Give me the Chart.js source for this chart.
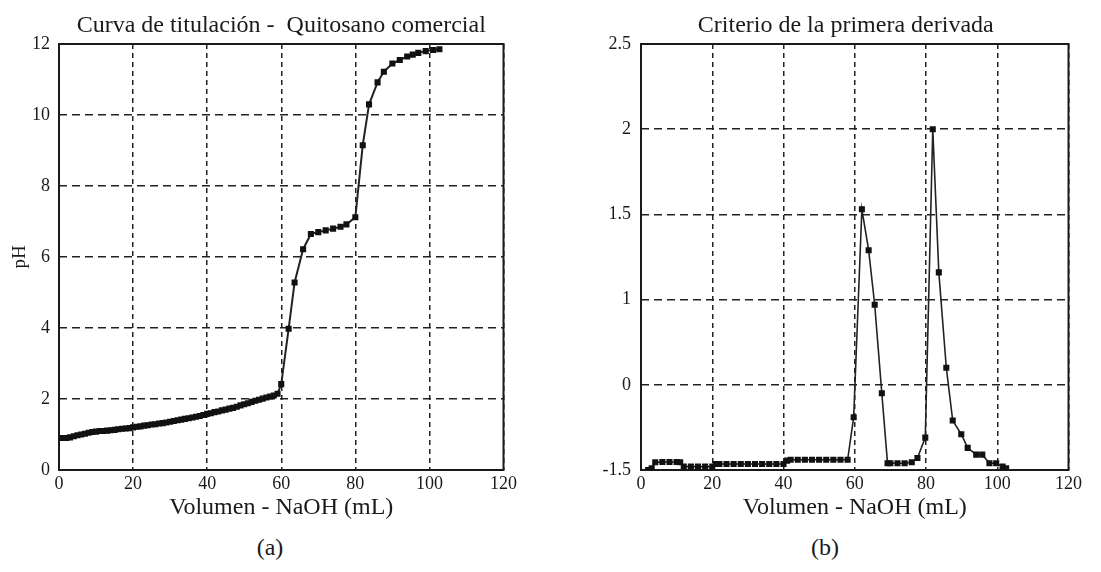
<!DOCTYPE html>
<html>
<head>
<meta charset="utf-8">
<script src="https://cdn.jsdelivr.net/npm/chart.js@4.4.0/dist/chart.umd.min.js"></script>
<style>
  body { margin: 0; background: #fff; width: 1101px; height: 572px; position: relative; overflow: hidden;
         font-family: 'Liberation Serif', 'Times New Roman', serif; color: #1a1a1a; }
  .box { position: absolute; top: 0; height: 530px; }
  .sub { position: absolute; top: 534px; width: 60px; text-align: center; font-size: 24px; }
</style>
</head>
<body>
<div class="box" style="left:0;width:520px"><canvas id="chartA"></canvas></div>
<div class="box" style="left:580px;width:505px"><canvas id="chartB"></canvas></div>
<div class="sub" style="left:240px">(a)</div>
<div class="sub" style="left:795px">(b)</div>
<script>
// titration curve: NaOH volume (mL) vs pH
const volA = [0, 1, 2, 3, 4, 5, 6, 7, 8, 9, 10, 11, 12, 13, 14, 15, 16, 17, 18, 19,
  20, 21, 22, 23, 24, 25, 26, 27, 28, 29, 30, 31, 32, 33, 34, 35, 36, 37, 38, 39,
  40, 41, 42, 43, 44, 45, 46, 47, 48, 49, 50, 51, 52, 53, 54, 55, 56, 57, 58, 59,
  60, 62, 63.6, 65.9, 68, 70, 72, 74, 76, 77.6, 80, 82, 83.7, 86, 87.7, 90, 92, 94,
  95.5, 97, 99, 101, 102.7];
const phA = [0.90, 0.90, 0.90, 0.92, 0.95, 0.98, 1.00, 1.02, 1.05, 1.07, 1.08, 1.10, 1.10, 1.11, 1.12, 1.13, 1.15, 1.16, 1.17, 1.18,
  1.20, 1.22, 1.23, 1.25, 1.26, 1.28, 1.29, 1.31, 1.32, 1.34, 1.36, 1.38, 1.40, 1.42, 1.44, 1.46, 1.48, 1.50, 1.52, 1.55,
  1.58, 1.60, 1.63, 1.65, 1.68, 1.70, 1.73, 1.75, 1.78, 1.82, 1.85, 1.88, 1.92, 1.95, 1.98, 2.01, 2.04, 2.07, 2.10, 2.15,
  2.42, 3.98, 5.28, 6.22, 6.65, 6.70, 6.75, 6.80, 6.85, 6.92, 7.12, 9.15, 10.30, 10.92, 11.22, 11.45, 11.55, 11.65,
  11.70, 11.75, 11.80, 11.83, 11.85];

// first derivative criterion
const volB = [2, 3, 4, 6, 8, 10, 11, 12, 14, 16, 18, 20, 21, 22, 24, 26, 28, 30, 32, 34, 36, 38, 40,
  41, 42, 44, 46, 48, 50, 52, 54, 56, 58, 59.7, 62, 63.9, 65.6, 67.6, 69.2, 70, 72, 74, 76,
  77.6, 79.8, 81.9, 83.6, 85.7, 87.5, 89.9, 91.7, 94.1, 95.8, 97.8, 99.7, 101.5, 102.5];
const derB = [0.00, 0.01, 0.045, 0.047, 0.047, 0.047, 0.045, 0.02, 0.02, 0.02, 0.02, 0.02, 0.035, 0.035, 0.035, 0.035, 0.035, 0.035, 0.035, 0.035, 0.035, 0.035, 0.035,
  0.055, 0.06, 0.06, 0.06, 0.06, 0.06, 0.06, 0.06, 0.06, 0.06, 0.31, 1.53, 1.29, 0.97, 0.45, 0.04, 0.04, 0.04, 0.04, 0.045,
  0.07, 0.19, 2.00, 1.16, 0.60, 0.29, 0.21, 0.13, 0.09, 0.09, 0.04, 0.04, 0.02, 0.01];
// labels printed on the derivative chart's grid lines, bottom to top
const yLabelsB = ['-1.5', '0', '1', '1.5', '2', '2.5'];

const xTicks = [0, 20, 40, 60, 80, 100, 120];

const serif = "'Liberation Serif', 'Times New Roman', serif";
Chart.defaults.font.family = serif;
Chart.defaults.color = '#1a1a1a';

const toPoints = (xs, ys) => xs.map((x, i) => ({ x: x, y: ys[i] }));

// solid frame round the plot area and a title centred over it
const frameTitle = {
  id: 'frameTitle',
  beforeDatasetsDraw(chart) {
    const { ctx, chartArea: a } = chart;
    ctx.save();
    ctx.lineWidth = 2;
    ctx.strokeStyle = '#1a1a1a';
    ctx.strokeRect(a.left, a.top, a.right - a.left, a.bottom - a.top);
    ctx.restore();
  },
  afterDraw(chart, args, opts) {
    const { ctx, chartArea: a } = chart;
    ctx.save();
    ctx.fillStyle = '#1a1a1a';
    ctx.font = '24px ' + serif;
    ctx.textAlign = 'center';
    ctx.textBaseline = 'alphabetic';
    ctx.fillText(opts.text, (a.left + a.right) / 2 + (opts.dx || 0), 32);
    ctx.restore();
  }
};

function makeChart(canvasId, points, yOpts, title, yWidth, lineW) {
  return new Chart(document.getElementById(canvasId), {
    type: 'scatter',
    data: {
      datasets: [{
        data: points,
        showLine: true,
        borderColor: '#222',
        borderWidth: lineW,
        pointStyle: 'rect',
        pointRadius: 4.3,
        pointBackgroundColor: '#111',
        pointBorderColor: '#111',
        pointBorderWidth: 0
      }]
    },
    options: {
      responsive: true,
      maintainAspectRatio: false,
      animation: false,
      layout: { padding: { top: 44, right: 16, left: 0, bottom: 0 } },
      plugins: {
        legend: { display: false },
        tooltip: { enabled: false },
        frameTitle: title
      },
      scales: {
        x: {
          type: 'linear',
          min: 0,
          max: 120,
          afterBuildTicks: (s) => { s.ticks = xTicks.map(v => ({ value: v })); },
          ticks: { font: { size: 18 }, padding: 3, maxRotation: 0 },
          grid: { color: '#222', lineWidth: 1.5, drawTicks: false },
          border: { display: false, dash: [5, 4] },
          title: { display: true, text: 'Volumen - NaOH (mL)', font: { size: 24 }, padding: { top: 0, bottom: 8 } },
          afterFit: (s) => { s.height = 60; }
        },
        y: Object.assign({
          grid: { color: '#222', lineWidth: 1.5, drawTicks: false },
          border: { display: false, dash: [8, 5] },
          afterFit: (s) => { s.width = yWidth; }
        }, yOpts)
      }
    },
    plugins: [frameTitle]
  });
}

makeChart('chartA', toPoints(volA, phA), {
  min: 0,
  max: 12,
  ticks: { stepSize: 2, font: { size: 18 }, padding: 9 },
  title: { display: true, text: 'pH', font: { size: 19 }, padding: { top: 9, bottom: 0 } }
}, { text: 'Curva de titulación -  Quitosano comercial' }, 59, 2);

makeChart('chartB', toPoints(volB, derB), {
  min: 0,
  max: 2.5,
  ticks: {
    stepSize: 0.5,
    font: { size: 18 },
    padding: 10,
    callback: (v) => yLabelsB[Math.round(v / 0.5)]
  }
}, { text: 'Criterio de la primera derivada', dx: -9 }, 61, 1.6);
</script>
</body>
</html>
